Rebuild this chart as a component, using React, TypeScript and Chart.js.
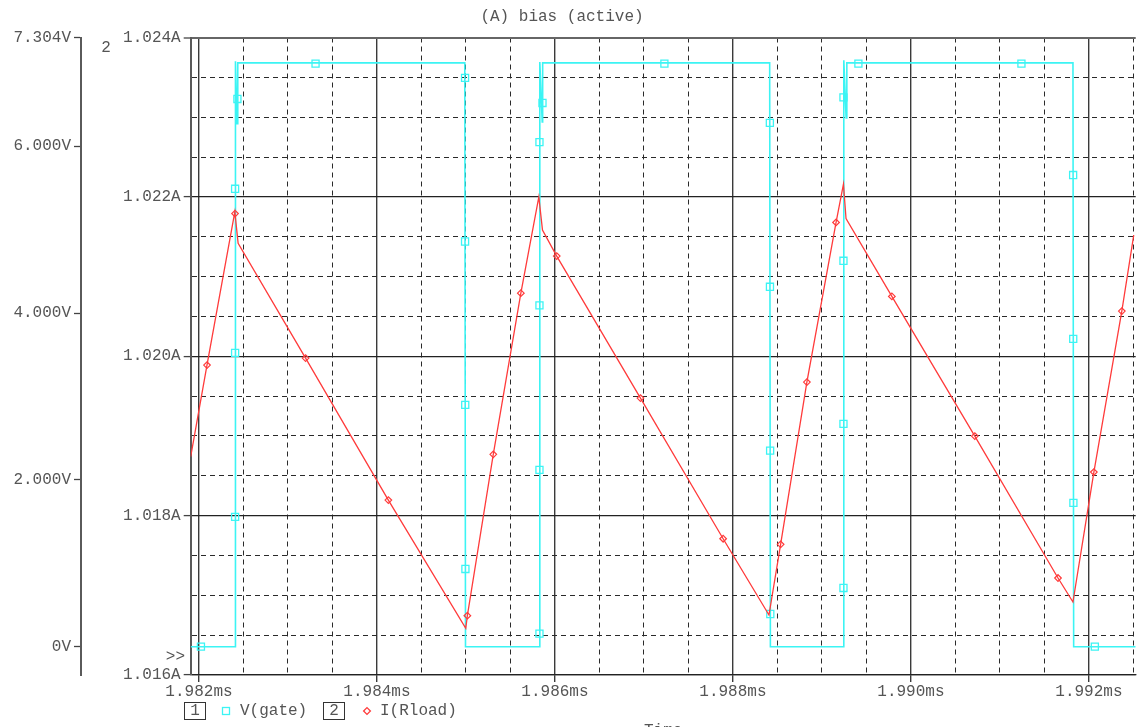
import React, { useEffect, useRef } from 'react';
import { Chart, registerables } from 'chart.js';

Chart.register(...registerables);

// ---------- text ----------
const TITLE = '(A) bias (active)';
const X_TITLE = 'Time';
const SERIES_NAMES = ['V(gate)', 'I(Rload)'];
const AXIS_NUMBERS = ['1', '2'];

// ---------- axes (time in ms, voltage in V, current in A) ----------
const X_RANGE = [1.981907, 1.992526];
const V_RANGE = [-0.3395, 7.304];
const I_RANGE = [1.016, 1.024];
const X_TICKS = [
  1.982, 1.9825, 1.983, 1.9835, 1.984, 1.9845, 1.985, 1.9855, 1.986, 1.9865, 1.987,
  1.9875, 1.988, 1.9885, 1.989, 1.9895, 1.99, 1.9905, 1.991, 1.9915, 1.992, 1.9925,
];
const V_TICKS = [0, 2, 4, 6, 7.304];
const I_TICKS = [
  1.016, 1.0165, 1.017, 1.0175, 1.018, 1.0185, 1.019, 1.0195, 1.02, 1.0205, 1.021,
  1.0215, 1.022, 1.0225, 1.023, 1.0235, 1.024,
];

// ---------- V(gate) trace ----------
const GATE_T = [
  1.981907, 1.982406, 1.98241, 1.982428, 1.982436, 1.984987, 1.984995,
  1.985826, 1.98583, 1.985857, 1.985862, 1.988413, 1.988421,
  1.989242, 1.989246, 1.989272, 1.98928, 1.991821, 1.991829, 1.992526,
];
const GATE_V = [
  0, 0, 7.02, 6.27, 7.0, 7.0, 0,
  0, 7.01, 6.29, 7.0, 7.0, 0,
  0, 7.03, 6.34, 7.0, 7.0, 0, 0,
];
// V(gate) marker samples
const GATE_MARK_T = [
  1.982022, 1.982406, 1.982406, 1.982406, 1.982432, 1.98331,
  1.98499, 1.98499, 1.984992, 1.984994,
  1.985826, 1.985826, 1.985826, 1.985826, 1.98586, 1.98723,
  1.988415, 1.988416, 1.988418, 1.98842,
  1.989242, 1.989242, 1.989242, 1.989242, 1.98941, 1.991242,
  1.991823, 1.991824, 1.991826, 1.992067,
];
const GATE_MARK_V = [
  0, 1.556, 3.523, 5.49, 6.567, 6.99,
  6.82, 4.858, 2.9, 0.932,
  0.156, 2.12, 4.093, 6.05, 6.519, 6.99,
  6.28, 4.315, 2.35, 0.392,
  0.704, 2.672, 4.627, 6.586, 6.99, 6.99,
  5.655, 3.691, 1.724, 0,
];

// ---------- I(Rload) trace ----------
const LOAD_T = [
  1.981907, 1.982403, 1.98244, 1.984998, 1.985819, 1.98586, 1.988405,
  1.989242, 1.989271, 1.991821, 1.992504,
];
const LOAD_I = [
  1.018739, 1.021812, 1.021416, 1.016586, 1.022, 1.021583, 1.016753,
  1.02216, 1.021729, 1.016916, 1.02152,
];
// I(Rload) marker samples
const LOAD_MARK_T = [
  1.98209, 1.982405, 1.983198, 1.984128, 1.985016, 1.985307, 1.985617, 1.98602,
  1.986961, 1.98789, 1.988536, 1.988831, 1.989159, 1.989786, 1.990718, 1.991653,
  1.992056, 1.99237,
];
const LOAD_MARK_I = [
  1.019889, 1.02179, 1.019977, 1.018195, 1.016744, 1.018769, 1.020792, 1.021257,
  1.019475, 1.01771, 1.01764, 1.019676, 1.021679, 1.020751, 1.018998, 1.017217,
  1.018547, 1.020567,
];

// ---------- styles ----------
const CYAN = '#3cf4f4';
const RED = '#ff3b3b';
const TEXT = '#555555';
const GRID = '#2a2a2a';
const MAJOR = '#3a3a3a';
const FONT_FAMILY = '"Liberation Mono", "DejaVu Sans Mono", monospace';
const FONT_SIZE = 16;

const pts = (xs: number[], ys: number[]) => xs.map((x, i) => ({ x, y: ys[i] }));
const mergedPts = (xa: number[], ya: number[], xb: number[], yb: number[]) =>
  [...pts(xa, ya), ...pts(xb, yb)].sort((a, b) => a.x - b.x);

const isMajor = (ctx: any) => ctx.index === undefined || ctx.index % 4 === 0;

const extrasPlugin = {
  id: 'pspiceExtras',
  afterDraw(chart: any) {
    const { ctx, chartArea } = chart;
    ctx.save();
    ctx.font = `${FONT_SIZE}px ${FONT_FAMILY}`;
    ctx.fillStyle = TEXT;
    ctx.textBaseline = 'middle';

    // title
    ctx.textAlign = 'center';
    ctx.fillText(TITLE, 562, 17);
    // axis number beside current axis
    ctx.fillText(AXIS_NUMBERS[1], 106, 48);
    // x axis title (cut by the bottom edge)
    ctx.textBaseline = 'top';
    ctx.fillText(X_TITLE, (chartArea.left + chartArea.right) / 2, 723);
    ctx.textBaseline = 'middle';
    // selected axis marker
    ctx.textAlign = 'right';
    ctx.fillText('>>', 185, 657);

    // legend
    const ly = 711;
    ctx.strokeStyle = '#333';
    ctx.lineWidth = 1;
    ctx.textAlign = 'center';
    ctx.strokeRect(184.5, 702.5, 21, 17);
    ctx.fillText(AXIS_NUMBERS[0], 195, ly);
    ctx.strokeRect(323.5, 702.5, 21, 17);
    ctx.fillText(AXIS_NUMBERS[1], 334, ly);

    ctx.textAlign = 'left';
    ctx.fillText(SERIES_NAMES[0], 240, ly);
    ctx.fillText(SERIES_NAMES[1], 380, ly);

    ctx.lineWidth = 1.3;
    ctx.strokeStyle = CYAN;
    ctx.strokeRect(222.5, 707.5, 7, 7);
    ctx.strokeStyle = RED;
    ctx.beginPath();
    ctx.moveTo(367, ly - 3.4);
    ctx.lineTo(370.4, ly);
    ctx.lineTo(367, ly + 3.4);
    ctx.lineTo(363.6, ly);
    ctx.closePath();
    ctx.stroke();
    ctx.restore();
  },
};

export default function App() {
  const canvasRef = useRef<HTMLCanvasElement | null>(null);

  useEffect(() => {
    const canvas = canvasRef.current;
    if (!canvas) return;
    const font = { family: FONT_FAMILY, size: FONT_SIZE };

    const chart = new Chart(canvas, {
      type: 'scatter',
      data: {
        datasets: [
          {
            label: SERIES_NAMES[1],
            data: mergedPts(LOAD_T, LOAD_I, LOAD_MARK_T, LOAD_MARK_I),
            yAxisID: 'yI',
            showLine: true,
            borderColor: RED,
            borderWidth: 1.3,
            pointRadius: 0,
            tension: 0,
            order: 0,
          },
          {
            label: SERIES_NAMES[1] + ' markers',
            data: pts(LOAD_MARK_T, LOAD_MARK_I),
            yAxisID: 'yI',
            showLine: false,
            pointStyle: 'rectRot',
            pointRadius: 3.3,
            pointBorderWidth: 1.2,
            pointBorderColor: RED,
            pointBackgroundColor: 'rgba(255,255,255,0)',
            order: 0,
          },
          {
            label: SERIES_NAMES[0],
            data: pts(GATE_T, GATE_V),
            yAxisID: 'yV',
            showLine: true,
            borderColor: CYAN,
            borderWidth: 1.6,
            pointRadius: 0,
            tension: 0,
            order: 1,
          },
          {
            label: SERIES_NAMES[0] + ' markers',
            data: pts(GATE_MARK_T, GATE_MARK_V),
            yAxisID: 'yV',
            showLine: false,
            pointStyle: 'rect',
            pointRadius: 5,
            pointBorderWidth: 1.3,
            pointBorderColor: CYAN,
            pointBackgroundColor: 'rgba(255,255,255,0)',
            order: 1,
          },
        ],
      },
      options: {
        responsive: false,
        animation: false,
        events: [],
        layout: { padding: { top: 37.5, right: 3, bottom: 0, left: 0 } },
        plugins: {
          legend: { display: false },
          tooltip: { enabled: false },
          title: { display: false },
        },
        scales: {
          x: {
            type: 'linear',
            position: 'bottom',
            min: X_RANGE[0],
            max: X_RANGE[1],
            bounds: 'data',
            afterBuildTicks: (s: any) => {
              s.ticks = X_TICKS.map((value) => ({ value }));
            },
            afterFit: (s: any) => {
              s.height = 52;
            },
            ticks: {
              autoSkip: false,
              maxRotation: 0,
              minRotation: 0,
              padding: 0,
              color: TEXT,
              font,
              callback: (v: any, i: number) => (i % 4 === 0 ? Number(v).toFixed(3) + 'ms' : ''),
            },
            grid: {
              color: (c: any) => (isMajor(c) ? MAJOR : GRID),
              lineWidth: (c: any) => (isMajor(c) ? 1.4 : 1),
              tickLength: 7,
              tickColor: (c: any) => (isMajor(c) ? MAJOR : 'rgba(0,0,0,0)'),
              tickWidth: 1.4,
            },
            border: {
              color: '#222',
              width: 1.3,
              dash: (c: any) => (isMajor(c) ? [] : [5, 4]),
            },
          },
          yI: {
            type: 'linear',
            position: 'left',
            weight: 0,
            min: I_RANGE[0],
            max: I_RANGE[1],
            bounds: 'data',
            afterBuildTicks: (s: any) => {
              s.ticks = I_TICKS.map((value) => ({ value }));
            },
            afterFit: (s: any) => {
              s.width = 109.7;
            },
            ticks: {
              autoSkip: false,
              padding: 3,
              color: TEXT,
              font,
              callback: (v: any, i: number) => (i % 4 === 0 ? Number(v).toFixed(3) + 'A' : ''),
            },
            grid: {
              color: (c: any) => (c.index === I_TICKS.length - 1 ? '#666' : isMajor(c) ? '#222' : GRID),
              lineWidth: (c: any) => (c.index === I_TICKS.length - 1 ? 2 : isMajor(c) ? 1.2 : 1),
              tickLength: 7,
              tickColor: (c: any) => (isMajor(c) ? '#444' : 'rgba(0,0,0,0)'),
              tickWidth: 1.3,
            },
            border: {
              color: '#5a5a5a',
              width: 2,
              dash: (c: any) => (isMajor(c) ? [] : [5, 4]),
            },
          },
          yV: {
            type: 'linear',
            position: 'left',
            weight: 1,
            min: V_RANGE[0],
            max: V_RANGE[1],
            bounds: 'data',
            afterBuildTicks: (s: any) => {
              s.ticks = V_TICKS.map((value) => ({ value }));
            },
            afterFit: (s: any) => {
              s.width = 81;
            },
            ticks: {
              autoSkip: false,
              padding: 3,
              color: TEXT,
              font,
              callback: (v: any) => (Number(v) === 0 ? '0V' : Number(v).toFixed(3) + 'V'),
            },
            grid: {
              drawOnChartArea: false,
              tickLength: 7,
              tickColor: '#444',
              tickWidth: 1.3,
            },
            border: { color: '#5a5a5a', width: 2 },
          },
        },
      } as any,
      plugins: [extrasPlugin],
    });

    return () => chart.destroy();
  }, []);

  return (
    <div style={{ position: 'fixed', left: 0, top: 0, width: 1142, height: 727, background: '#fff' }}>
      <canvas ref={canvasRef} width={1142} height={727} style={{ display: 'block' }} />
    </div>
  );
}
